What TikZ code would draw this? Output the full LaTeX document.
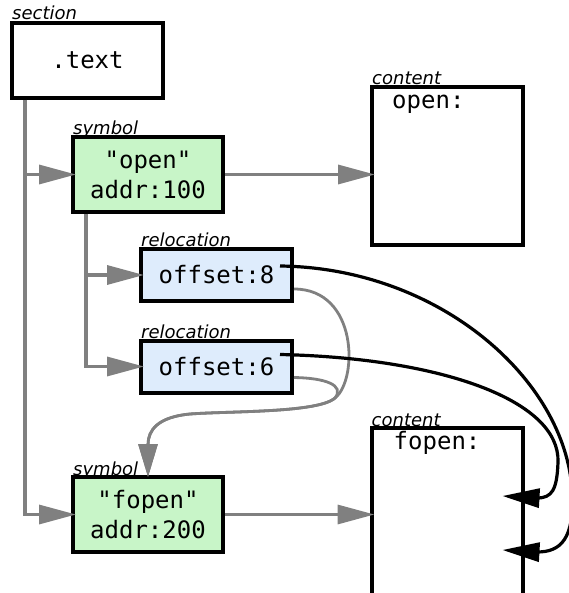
\documentclass[tikz,border=0pt]{standalone}
\usepackage{fontspec}
\setmonofont{DejaVu Sans Mono}
\setsansfont{DejaVu Sans}
\usetikzlibrary{arrows.meta,calc}
\definecolor{symgreen}{RGB}{200,245,200}
\definecolor{relblue}{RGB}{222,236,252}
\definecolor{lgray}{RGB}{128,128,128}
\begin{document}
\begin{tikzpicture}[x=1pt,y=-1pt,
  box/.style={draw,line width=4pt,inner sep=0pt,font=\ttfamily\fontsize{24}{30}\selectfont,align=center},
  symbox/.style={box,fill=symgreen,minimum width=150pt,minimum height=75pt},
  relbox/.style={box,fill=relblue,minimum width=151pt,minimum height=52pt},
  contbox/.style={draw,line width=4pt,inner sep=0pt,minimum width=151pt},
  kind/.style={font=\sffamily\itshape\fontsize{18}{20}\selectfont,inner sep=0pt,anchor=base west},
  ctext/.style={font=\ttfamily\fontsize{24}{30}\selectfont,inner sep=0pt,anchor=base west},
  garrow/.style={draw=lgray,line width=3.3pt,-{Triangle[length=37pt,width=19pt]},shorten >=-5pt},
  gcurve/.style={draw=lgray,line width=2.8pt,-{Triangle[length=33pt,width=19pt]},shorten >=-2pt},
  barrow/.style={draw=black,line width=3.2pt,-{Triangle[length=37pt,width=19pt]}}
]
\useasboundingbox (0,0) rectangle (568,593);

% nodes
\node[box,minimum width=151pt,minimum height=75pt] (sec) at (87.5,60.5) {.text};
\node[symbox] (sym1) at (148,174.5) {"open"\\addr:100};
\node[relbox] (rel1) at (216.5,275) {offset:8};
\node[relbox] (rel2) at (216.5,366.5) {offset:6};
\node[symbox] (sym2) at (148,514.5) {"fopen"\\addr:200};
\node[contbox,minimum height=158pt] (cont1) at (447.5,166) {};
\node[contbox,minimum height=200pt] (cont2) at (447,528) {};

% kind labels
\node[kind] (lsec) at ($(sec.north west)+(2,-1)$) {section};
\node[kind] (lsym1) at ($(sym1.north west)+(2,0)$) {symbol};
\node[kind] (lrel1) at ($(rel1.north west)+(2,0)$) {relocation};
\node[kind] (lrel2) at ($(rel2.north west)+(2,0)$) {relocation};
\node[kind] (lsym2) at ($(sym2.north west)+(2,0)$) {symbol};
\node[kind] (lc1) at ($(cont1.north west)+(2,0)$) {content};
\node[kind] (lc2) at ($(cont2.north west)+(2,0)$) {content};

% content texts
\node[ctext] (t1) at ($(cont1.north west)+(22,24)$) {open:};
\node[ctext] (t2) at ($(cont2.north west)+(24,23)$) {fopen:};

% tree connectors
\coordinate (sroot) at ($(sec.south west)+(15,0)$);
\coordinate (yroot) at ($(sym1.south west)+(15,0)$);
\draw[garrow] (sroot) |- (sym2.west);
\draw[garrow] (sroot) |- (sym1.west);
\draw[garrow] (yroot) |- (rel2.west);
\draw[garrow] (yroot) |- (rel1.west);

% symbol -> content
\draw[garrow] (sym1.east) -- (sym1.east -| cont1.west);
\draw[garrow] (sym2.east) -- (sym2.east -| cont2.west);

% relocation -> target symbol
\coordinate (g1) at ($(rel1.east)+(0,14)$);
\coordinate (g2) at ($(rel2.east)+(0,11)$);
\draw[gcurve] (g1) .. controls (358,289) and (358,380) .. (335,398)
  .. controls (318,413) and (230,411) .. (190,414)
  .. controls (158,417) and (148,430) .. (sym2.north);
\draw[gcurve] (g2) .. controls (325,378) and (345,385) .. (335,398)
  .. controls (318,413) and (230,411) .. (190,414)
  .. controls (158,417) and (148,430) .. (sym2.north);

% relocation -> patched location in content
\coordinate (b1) at ($(rel1.east)+(-14,-9)$);
\coordinate (b2) at ($(rel2.east)+(-14,-12)$);
\coordinate (h1) at ($(cont2.north east)+(-22,70)$);
\coordinate (h2) at ($(cont2.north east)+(-22,124)$);
\draw[barrow] (b1) .. controls (440,268) and (565,380) .. (572,490)
  .. controls (575,540) and (560,552) .. (537,552) -- (h2);
\draw[barrow] (b2) .. controls (440,358) and (560,400) .. (558,462)
  .. controls (557,490) and (552,498) .. (537,498) -- (h1);
\end{tikzpicture}
\end{document}
